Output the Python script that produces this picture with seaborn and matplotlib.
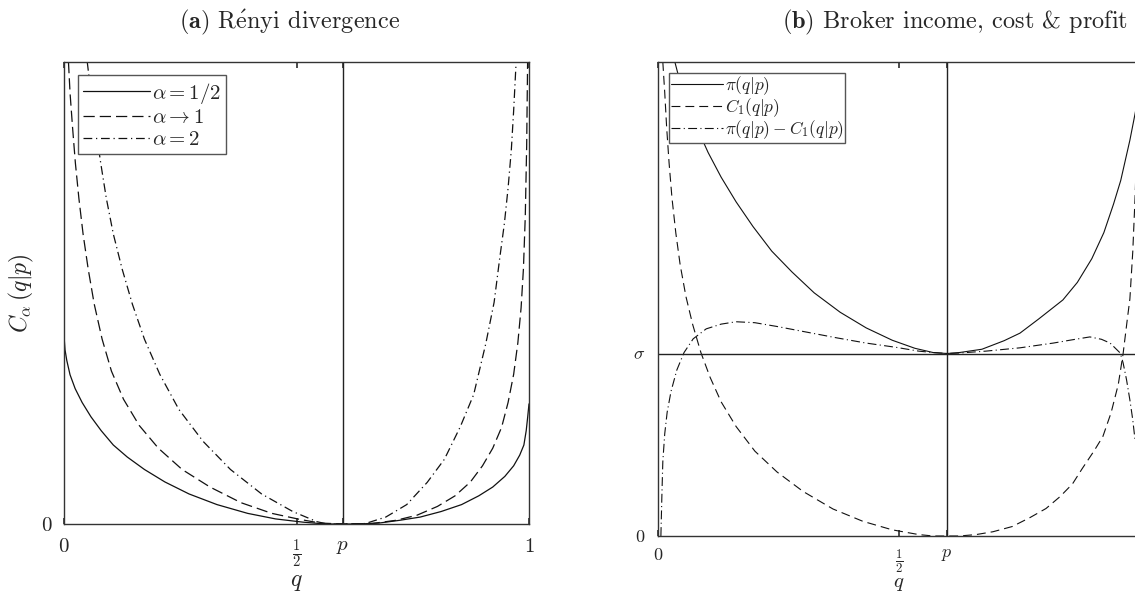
import numpy as np
import pandas as pd
import seaborn as sns
import matplotlib.pyplot as plt

# panel (a): Renyi divergence (fraction of axis height)
p_a = 0.6
q_half = [0, 0.0022, 0.006, 0.013, 0.024, 0.039, 0.058, 0.080, 0.106, 0.136, 0.173, 0.217,
          0.269, 0.329, 0.395, 0.455, 0.514, 0.562, 0.6, 0.633, 0.677, 0.722, 0.766, 0.811,
          0.855, 0.892, 0.922, 0.948, 0.967, 0.980, 0.989, 0.994, 0.997, 1.0]
c_half = [0.407, 0.377, 0.354, 0.323, 0.293, 0.263, 0.232, 0.202, 0.171, 0.145, 0.118, 0.091,
          0.065, 0.042, 0.023, 0.011, 0.004, 0.0, 0.0, 0.0, 0.002, 0.008, 0.015, 0.027,
          0.042, 0.061, 0.080, 0.103, 0.126, 0.149, 0.171, 0.202, 0.230, 0.26]
q_one = [0.0096, 0.013, 0.0185, 0.0245, 0.032, 0.041, 0.052, 0.065, 0.082, 0.102, 0.128,
         0.162, 0.203, 0.254, 0.314, 0.381, 0.447, 0.507, 0.551, 0.6, 0.662, 0.714, 0.759,
         0.803, 0.841, 0.874, 0.900, 0.922, 0.941, 0.955, 0.967, 0.976, 0.983, 0.988, 0.992,
         0.995, 0.997]
c_one = [1.0, 0.933, 0.857, 0.781, 0.705, 0.628, 0.552, 0.476, 0.400, 0.331, 0.270,
         0.213, 0.164, 0.118, 0.080, 0.046, 0.023, 0.010, 0.002, 0.0, 0.001, 0.008, 0.019,
         0.038, 0.061, 0.091, 0.126, 0.164, 0.209, 0.263, 0.324, 0.392, 0.468, 0.552, 0.666,
         0.819, 1.0]
q_two = [0.050, 0.058, 0.068, 0.079, 0.091, 0.106, 0.125, 0.147, 0.173, 0.206, 0.247, 0.299,
         0.358, 0.425, 0.492, 0.544, 0.566, 0.6, 0.648, 0.692, 0.737, 0.781, 0.818, 0.852,
         0.881, 0.907, 0.925, 0.937, 0.947, 0.955, 0.962, 0.967, 0.972]
c_two = [1.0, 0.933, 0.857, 0.781, 0.705, 0.628, 0.552, 0.476, 0.400, 0.324, 0.248, 0.179,
         0.118, 0.065, 0.027, 0.005, 0.0, 0.0, 0.001, 0.015, 0.042, 0.090, 0.14, 0.21,
         0.28, 0.39, 0.48, 0.575, 0.65, 0.727, 0.81, 0.895, 0.994]
labels_a = [r'$\alpha = 1/2$', r'$\alpha \rightarrow 1$', r'$\alpha = 2$']

# panel (b): broker income, cost and profit
p_b = 0.6
sigma = 0.385
q_pi = [0.035, 0.046, 0.062, 0.081, 0.104, 0.131, 0.162, 0.197, 0.236, 0.278, 0.324, 0.378,
        0.432, 0.486, 0.533, 0.571, 0.6, 0.625, 0.672, 0.718, 0.751, 0.79, 0.840, 0.87,
        0.90, 0.925, 0.945, 0.96, 0.979, 0.99, 1.0]
v_pi = [1.0, 0.957, 0.913, 0.861, 0.809, 0.757, 0.705, 0.653, 0.601, 0.557, 0.513, 0.472,
        0.439, 0.413, 0.396, 0.387, 0.385, 0.387, 0.394, 0.412, 0.428, 0.458, 0.498, 0.535,
        0.585, 0.64, 0.70, 0.75, 0.835, 0.892, 0.95]
q_c1 = [0.010, 0.014, 0.018, 0.023, 0.029, 0.037, 0.046, 0.058, 0.072, 0.089, 0.108, 0.131,
        0.162, 0.201, 0.247, 0.301, 0.363, 0.425, 0.486, 0.541, 0.571, 0.6, 0.625, 0.66,
        0.695, 0.735, 0.772, 0.805, 0.834, 0.86, 0.88, 0.905, 0.923, 0.94, 0.955, 0.965,
        0.974, 0.979, 0.985, 0.99, 0.994, 0.997]
v_c1 = [1.0, 0.935, 0.861, 0.787, 0.713, 0.639, 0.572, 0.505, 0.446, 0.387, 0.335, 0.283,
        0.231, 0.179, 0.135, 0.094, 0.057, 0.031, 0.013, 0.003, 0.0, 0.0, 0.0, 0.003,
        0.009, 0.02, 0.039, 0.058, 0.083, 0.11, 0.142, 0.18, 0.21, 0.26, 0.32, 0.385,
        0.46, 0.50, 0.60, 0.72, 0.85, 0.95]
q_profit = [0.006, 0.008, 0.010, 0.014, 0.019, 0.027, 0.039, 0.054, 0.073, 0.1, 0.131, 0.162,
            0.201, 0.247, 0.309, 0.371, 0.432, 0.494, 0.541, 0.571, 0.6, 0.625, 0.68, 0.751,
            0.82, 0.86, 0.896, 0.92, 0.938, 0.959, 0.965, 0.972, 0.979, 0.985, 0.99]
v_profit = [0.0, 0.083, 0.157, 0.216, 0.261, 0.305, 0.35, 0.387, 0.416, 0.437, 0.447, 0.452,
            0.45, 0.442, 0.43, 0.418, 0.407, 0.398, 0.39, 0.387, 0.385, 0.386, 0.39, 0.397,
            0.407, 0.414, 0.42, 0.415, 0.407, 0.386, 0.365, 0.33, 0.287, 0.245, 0.2]
labels_b = [r'$\pi(q|p)$', r'$C_1(q|p)$', r'$\pi(q|p) - C_1(q|p)$']

sns.set_theme(style='white')
plt.rcParams['font.family'] = ['cmr10', 'DejaVu Serif']
plt.rcParams['mathtext.fontset'] = 'cm'
plt.rcParams['axes.unicode_minus'] = False
plt.rcParams['axes.formatter.use_mathtext'] = True

styles_a = [dict(linestyle='-'),
            dict(linestyle=(0, (9, 4))),
            dict(linestyle=(0, (7, 3, 1, 3)))]
styles_b = [dict(linestyle='-'),
            dict(linestyle=(0, (8, 4.5))),
            dict(linestyle=(0, (8, 3, 1, 3)))]

fig = plt.figure(figsize=(11.35, 5.91), dpi=100)
ax1 = fig.add_axes([64 / 1135, 1 - 524 / 591, 465 / 1135, 462 / 591])
ax2 = fig.add_axes([658 / 1135, 1 - 536 / 591, 482 / 1135, 474 / 591])

curves_a = [(q_half, c_half), (q_one, c_one), (q_two, c_two)]
for (qq, vv), lab, st in zip(curves_a, labels_a, styles_a):
    sns.lineplot(x=qq, y=vv, ax=ax1, color='#111111', lw=0.9, label=lab,
                 sort=False, estimator=None, **st)

curves_b = [(q_pi, v_pi), (q_c1, v_c1), (q_profit, v_profit)]
for (qq, vv), lab, st in zip(curves_b, labels_b, styles_b):
    sns.lineplot(x=qq, y=vv, ax=ax2, color='#111111', lw=0.8, label=lab,
                 sort=False, estimator=None, **st)

ax1.axvline(p_a, color='#222222', lw=1.0)
ax2.axvline(p_b, color='#222222', lw=1.0)
ax2.axhline(sigma, color='#222222', lw=1.0)

for ax in (ax1, ax2):
    ax.set_xlim(0, 1)
    ax.set_ylim(0, 1)
    for s in ax.spines.values():
        s.set_color('#333333')
        s.set_linewidth(1.0)
    ax.tick_params(axis='x', direction='in', length=4, top=True, bottom=True,
                   color='#333333', pad=10)
    ax.tick_params(axis='y', direction='in', length=0, pad=8)

ax1.set_xticks([0, 0.5, p_a, 1])
ax1.set_xticklabels(['$0$', r'$\frac{1}{2}$', '$p$', '$1$'], fontsize=15)
ax1.set_yticks([0])
ax1.set_yticklabels(['$0$'], fontsize=15)
ax1.set_xlabel('$q$', fontsize=17, labelpad=0)
ax1.set_ylabel(r'$C_\alpha\,(q|p)$', fontsize=17, labelpad=4)

ax2.set_xticks([0, 0.5, p_b])
ax2.set_xticklabels(['$0$', r'$\frac{1}{2}$', '$p$'], fontsize=13)
ax2.set_yticks([0, sigma])
ax2.set_yticklabels(['$0$', r'$\sigma$'], fontsize=13)
ax2.tick_params(axis='x', pad=8)
ax2.tick_params(axis='y', pad=9)
ax2.set_xlabel('$q$', fontsize=15, labelpad=0)

leg1 = ax1.legend(loc='upper left', bbox_to_anchor=(0.03, 0.971), borderaxespad=0,
                  fontsize=15, handlelength=3.2, handletextpad=0.1, labelspacing=0.15,
                  borderpad=0.25, fancybox=False, framealpha=1, edgecolor='#555555')
leg2 = ax2.legend(loc='upper left', bbox_to_anchor=(0.023, 0.977), borderaxespad=0,
                  fontsize=12.5, handlelength=3.0, handletextpad=0.1, labelspacing=-0.05,
                  borderpad=0.1, fancybox=False, framealpha=1, edgecolor='#555555')
for leg in (leg1, leg2):
    leg.get_frame().set_linewidth(1.0)

fig.text(290 / 1135, 1 - 22 / 591, r'$\mathbf{(a)}$ R$\acute{\rm e}$nyi divergence',
         fontsize=17.5, ha='center', va='center')
fig.text(955 / 1135, 1 - 22 / 591, r'$\mathbf{(b)}$ Broker income, cost & profit',
         fontsize=17.5, ha='center', va='center')

fig.savefig('out.png', dpi=100)
